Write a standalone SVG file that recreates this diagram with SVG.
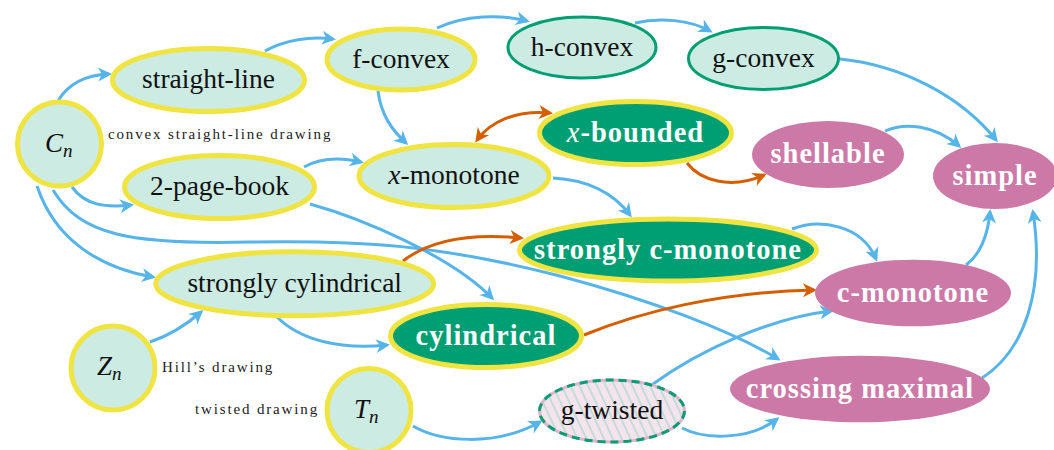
<svg xmlns="http://www.w3.org/2000/svg" width="1054" height="450" viewBox="0 0 1054 450">
<style>
.lt{fill:#CCEBE3;stroke:#F0E442;stroke-width:5}
.gn{fill:#CCEBE3;stroke:#009E73;stroke-width:3}
.dk{fill:#009E73;stroke:#F0E442;stroke-width:5}
.pk{fill:#CC79A7}
.t{font-family:"Liberation Serif",serif;font-size:27.5px;fill:#111;text-anchor:middle}
.b{font-family:"Liberation Serif",serif;font-size:28.5px;font-weight:bold;letter-spacing:1px;fill:#fff;text-anchor:middle}
.s{font-family:"Liberation Serif",serif;font-size:15px;letter-spacing:1.85px;fill:#222}
.m{font-family:"Liberation Serif",serif;font-size:27px;font-style:italic;fill:#111}
.eb{fill:none;stroke:#56B4E9;stroke-width:3;marker-end:url(#mb)}
.eo{fill:none;stroke:#D55E00;stroke-width:3;marker-end:url(#mo)}
</style>
<defs>
<marker id="mb" viewBox="-15 -8 16 16" refX="-3" refY="0" markerWidth="16" markerHeight="16" markerUnits="userSpaceOnUse" orient="auto-start-reverse"><path d="M0,0 L-14,-7 L-10,0 L-14,7Z" fill="#56B4E9"/></marker>
<marker id="mo" viewBox="-15 -8 16 16" refX="-3" refY="0" markerWidth="16" markerHeight="16" markerUnits="userSpaceOnUse" orient="auto-start-reverse"><path d="M0,0 L-14,-7 L-10,0 L-14,7Z" fill="#D55E00"/></marker>
<pattern id="stripes" patternUnits="userSpaceOnUse" width="8" height="8" patternTransform="rotate(-25)"><rect width="8" height="8" fill="#F5E4ED"/><line x1="2" y1="0" x2="2" y2="8" stroke="#A9D8CB" stroke-width="1.3"/></pattern>
</defs>
<g id="connectors">
<path class="eb" d="M58 101 C68 84,84 75,109 74"/>
<path class="eb" d="M265 51 C285 40,310 36,333 39"/>
<path class="eb" d="M378 91 C381 115,392 130,406 143"/>
<path class="eb" d="M437 28 C465 15,500 14,527 21"/>
<path class="eb" d="M635 23 C660 17,690 20,710 31"/>
<path class="eb" d="M840 59 C900 65,960 95,996 140"/>
<path class="eb" d="M885 131 C905 122,935 125,959 146"/>
<path class="eb" d="M72 187 C85 205,105 208,131 205"/>
<path class="eb" d="M304 167 C320 158,340 157,361 162"/>
<path class="eb" d="M553 178 C590 180,615 195,630 215"/>
<path class="eb" d="M310 204 C360 218,450 255,492 298"/>
<path class="eb" d="M37 186 C55 240,100 268,153 277"/>
<path class="eb" d="M53 190 C80 235,130 245,250 242 C360 240,440 245,560 276 C650 300,730 330,778 359"/>
<path class="eb" d="M277 317 C300 340,340 350,387 345"/>
<path class="eb" d="M150 342 C168 336,185 326,201 312"/>
<path class="eb" d="M413 426 C440 442,495 447,540 422"/>
<path class="eb" d="M653 384 C700 350,770 318,831 311"/>
<path class="eb" d="M682 428 C705 440,750 440,777 419"/>
<path class="eb" d="M792 229 C820 218,862 225,876 259"/>
<path class="eb" d="M966 265 C980 255,988 235,990 212"/>
<path class="eb" d="M982 378 C1025 350,1045 290,1033 212"/>
<path class="eo" style="marker-start:url(#mo)" d="M477 140 C490 122,515 110,550 113"/>
<path class="eo" d="M687 163 C700 180,730 190,764 175"/>
<path class="eo" d="M403 261 C430 240,470 233,521 238"/>
<path class="eo" d="M584 335 C640 312,720 292,814 290"/>
</g>
<g id="Cn"><circle class="lt" cx="59.5" cy="144" r="42"/><text class="m" x="45" y="152">C<tspan font-size="19" dy="5">n</tspan></text></g>
<text class="s" x="108" y="139">convex straight-line drawing</text>
<g id="straight-line"><ellipse class="lt" cx="208.5" cy="80" rx="96" ry="31.5"/><text class="t" x="208.5" y="88">straight-line</text></g>
<g id="f-convex"><ellipse class="lt" cx="401" cy="59.5" rx="74" ry="30.5"/><text class="t" x="401" y="67.5">f-convex</text></g>
<g id="h-convex"><ellipse class="gn" cx="582" cy="47.5" rx="74" ry="30.5"/><text class="t" x="582" y="55.5">h-convex</text></g>
<g id="g-convex"><ellipse class="gn" cx="763.5" cy="58.5" rx="75" ry="31"/><text class="t" x="763.5" y="66.5">g-convex</text></g>
<g id="x-bounded"><ellipse class="dk" cx="635.5" cy="133" rx="96" ry="31.5"/><text class="b" x="635.5" y="141.5"><tspan font-style="italic" font-weight="normal">x</tspan>-bounded</text></g>
<g id="shellable"><ellipse class="pk" cx="828" cy="154.5" rx="76" ry="33.5"/><text class="b" x="828" y="163">shellable</text></g>
<g id="simple"><ellipse class="pk" cx="995" cy="176" rx="62" ry="33"/><text class="b" x="995" y="184.5">simple</text></g>
<g id="2-page-book"><ellipse class="lt" cx="219.5" cy="187" rx="95" ry="31.5"/><text class="t" x="219.5" y="195">2-page-book</text></g>
<g id="x-monotone"><ellipse class="lt" cx="454" cy="176" rx="95" ry="31.5"/><text class="t" x="454" y="184"><tspan font-style="italic">x</tspan>-monotone</text></g>
<g id="strongly-c-monotone"><ellipse class="dk" cx="668" cy="250" rx="148.5" ry="31"/><text class="b" x="668" y="258.5">strongly c-monotone</text></g>
<g id="strongly-cylindrical"><ellipse class="lt" cx="294.7" cy="283.7" rx="139" ry="32"/><text class="t" x="294.7" y="291.7">strongly cylindrical</text></g>
<g id="cylindrical"><ellipse class="dk" cx="486" cy="336" rx="95.5" ry="31.5"/><text class="b" x="486" y="344.5">cylindrical</text></g>
<g id="c-monotone"><ellipse class="pk" cx="913" cy="293" rx="98" ry="33.3"/><text class="b" x="913" y="301.5">c-monotone</text></g>
<g id="crossing-maximal"><ellipse class="pk" cx="860" cy="389" rx="130" ry="33.3"/><text class="b" x="860" y="397.5">crossing maximal</text></g>
<g id="Zn"><circle class="lt" cx="113" cy="368" r="42"/><text class="m" x="97" y="375">Z<tspan font-size="19" dy="5">n</tspan></text></g>
<text class="s" x="162" y="372">Hill’s drawing</text>
<g id="Tn"><circle class="lt" cx="369" cy="410.5" r="42"/><text class="m" x="354" y="418">T<tspan font-size="19" dy="5">n</tspan></text></g>
<text class="s" x="195" y="414">twisted drawing</text>
<g id="g-twisted"><ellipse cx="612" cy="411" rx="72.5" ry="31" fill="url(#stripes)" stroke="#E2B3CD" stroke-width="3"/><ellipse cx="612" cy="411" rx="72.5" ry="31" fill="none" stroke="#009E73" stroke-width="3" stroke-dasharray="8 5"/><text class="t" x="612" y="419">g-twisted</text></g>
</svg>
